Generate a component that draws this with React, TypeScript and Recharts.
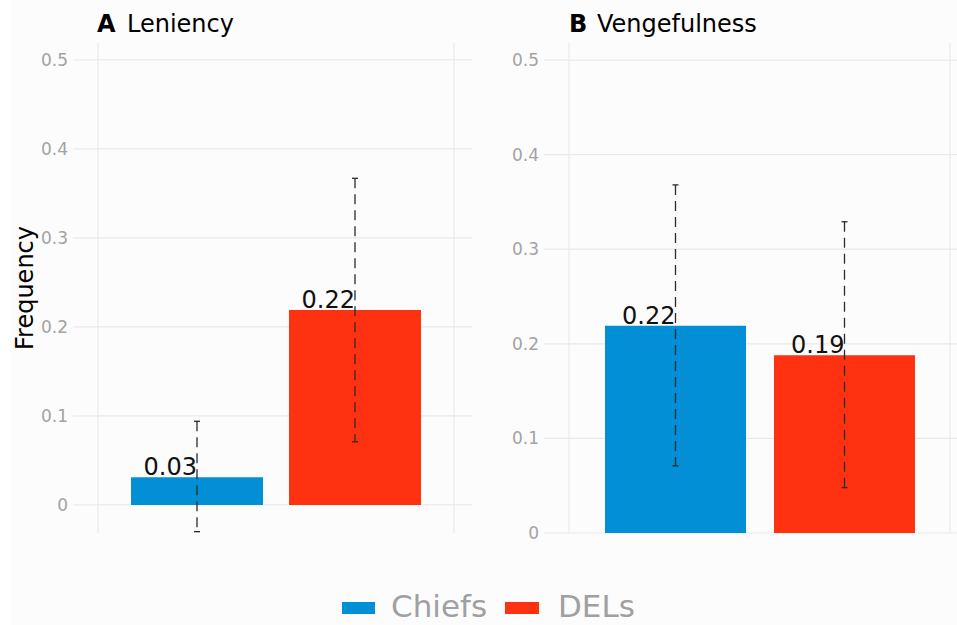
import React from "react";
import { BarChart, Bar, XAxis, YAxis, CartesianGrid, Cell, LabelList } from "recharts";

const categories = ["Chiefs", "DELs"];
const barColors = ["#038fd6", "#fe3110"];
const yTicks = [0, 0.1, 0.2, 0.3, 0.4, 0.5];

const leniencyValues = [0.031, 0.219];
const leniencyLow = [-0.03, 0.071];
const leniencyHigh = [0.094, 0.367];

const vengeValues = [0.219, 0.188];
const vengeLow = [0.071, 0.048];
const vengeHigh = [0.368, 0.329];

const FONT = "DejaVu Sans, Verdana, sans-serif";
const GRID = "#e9e9e9";

function buildRows(values: number[], low: number[], high: number[]) {
  return categories.map((c, i) => ({ category: c, value: values[i], err: [low[i], high[i]] }));
}

const ErrorShape = (props: any) => {
  const { x, y, width, height } = props;
  const cx = x + width / 2;
  const top = Math.min(y, y + height);
  const bottom = Math.max(y, y + height);
  return (
    <g>
      <line x1={cx} x2={cx} y1={top} y2={bottom} stroke="#2b2b2b" strokeWidth={1.3} strokeDasharray="10 6" />
      <line x1={cx - 3} x2={cx + 3} y1={top} y2={top} stroke="#2b2b2b" strokeWidth={1.3} />
      <line x1={cx - 3} x2={cx + 3} y1={bottom} y2={bottom} stroke="#2b2b2b" strokeWidth={1.3} />
    </g>
  );
};

const ValueLabel = (props: any) => {
  const { x, y, width, value } = props;
  return (
    <text x={x + width / 2} y={y - 2} textAnchor="end" fontSize={24} fill="#111" fontFamily={FONT}>
      {Number(value).toFixed(2)}
    </text>
  );
};

type PanelProps = {
  rows: any[];
  width: number;
  yAxisWidth: number;
  marginRight: number;
  domain: [number, number];
  padLeft: number;
  padRight: number;
  barSize: number;
  gridRightInset: number;
};

function Panel(p: PanelProps) {
  const [d0, d1] = p.domain;
  const plotTop = 43;
  const plotBottom = 533;
  const yOf = (v: number) => plotBottom - ((v - d0) / (d1 - d0)) * (plotBottom - plotTop);
  return (
    <BarChart
      width={p.width}
      height={560}
      data={p.rows}
      margin={{ top: plotTop, bottom: 560 - plotBottom, left: 0, right: p.marginRight }}
    >
      <CartesianGrid
        stroke={GRID}
        strokeWidth={1.2}
        horizontalPoints={yTicks.map(yOf)}
        verticalCoordinatesGenerator={({ offset }: any) => [offset.left, offset.left + offset.width - p.gridRightInset]}
      />
      <XAxis xAxisId="main" dataKey="category" type="category" hide padding={{ left: p.padLeft, right: p.padRight }} />
      <XAxis xAxisId="err" dataKey="category" type="category" hide padding={{ left: p.padLeft, right: p.padRight }} />
      <YAxis
        width={p.yAxisWidth}
        domain={p.domain}
        ticks={yTicks}
        allowDataOverflow
        axisLine={false}
        tickSize={25}
        tickMargin={5}
        tickLine={{ stroke: GRID, strokeWidth: 1.2 }}
        tick={{ fill: "#a3a3a3", fontSize: 17, fontFamily: FONT }}
        tickFormatter={(v: number) => String(v)}
      />
      <Bar xAxisId="main" dataKey="value" barSize={p.barSize} isAnimationActive={false}>
        {p.rows.map((r, i) => (
          <Cell key={r.category} fill={barColors[i]} />
        ))}
        <LabelList dataKey="value" content={ValueLabel} />
      </Bar>
      <Bar xAxisId="err" dataKey="err" barSize={p.barSize} isAnimationActive={false} shape={ErrorShape} />
    </BarChart>
  );
}

export default function App() {
  return (
    <div style={{ position: "absolute", left: 0, top: 0, width: 957, height: 625, background: "#ffffff", overflow: "hidden" }}>
      <div style={{ position: "absolute", left: 10, top: 0, width: 947, height: 625, background: "#fcfcfc" }} />
      <div style={{ position: "absolute", left: 0, top: 0 }}>
        <Panel
          rows={buildRows(leniencyValues, leniencyLow, leniencyHigh)}
          width={480}
          yAxisWidth={98}
          marginRight={8}
          domain={[-0.0315, 0.519]}
          padLeft={20}
          padRight={38}
          barSize={132}
          gridRightInset={18}
        />
      </div>
      <div style={{ position: "absolute", left: 480, top: 0 }}>
        <Panel
          rows={buildRows(vengeValues, vengeLow, vengeHigh)}
          width={477}
          yAxisWidth={89}
          marginRight={0}
          domain={[0, 0.518]}
          padLeft={22}
          padRight={28}
          barSize={141}
          gridRightInset={7}
        />
      </div>
      <svg width={957} height={625} style={{ position: "absolute", left: 0, top: 0, pointerEvents: "none" }} fontFamily={FONT}>
        <text x={97} y={32} fontSize={24} fontWeight="bold" fill="#000">A</text>
        <text x={127} y={32} fontSize={24} fill="#000">Leniency</text>
        <text x={569} y={32} fontSize={24} fontWeight="bold" fill="#000">B</text>
        <text x={597} y={32} fontSize={24} fill="#000">Vengefulness</text>
        <text x={33} y={288} fontSize={24} fill="#000" textAnchor="middle" transform="rotate(-90 33 288)">Frequency</text>
        <rect x={342} y={602} width={33} height={12} fill={barColors[0]} />
        <text x={391} y={617} fontSize={31} fill="#a0a0a0">{categories[0]}</text>
        <rect x={505} y={602} width={34} height={12} fill={barColors[1]} />
        <text x={558} y={617} fontSize={31} fill="#a0a0a0">{categories[1]}</text>
      </svg>
    </div>
  );
}
